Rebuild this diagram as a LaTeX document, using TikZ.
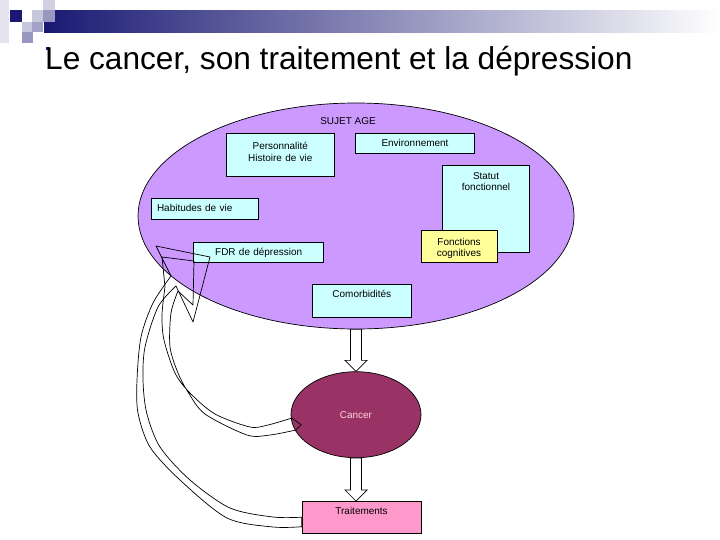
\documentclass[tikz,border=0pt]{standalone}
\usepackage{fontspec}
\setmainfont{Liberation Sans}
\usepackage{tikz}
\usetikzlibrary{calc,shapes.geometric}
\tikzset{>=latex}
\definecolor{Lavande}{RGB}{204,153,255}
\definecolor{BoxCyan}{RGB}{204,255,255}
\definecolor{Jaune}{RGB}{255,255,153}
\definecolor{Bordeaux}{RGB}{153,51,102}
\definecolor{Rose}{RGB}{255,153,204}
\definecolor{RosePale}{RGB}{255,214,214}
\definecolor{Marine}{RGB}{25,25,115}

\begin{document}
\begin{tikzpicture}[x=0.3mm,y=-0.3mm,
    boite/.style={draw,fill=BoxCyan,line width=0.6pt,inner sep=0pt,align=center,anchor=north west,font=\fontsize{8.5}{9.4}\selectfont},
    fleche/.style={draw,fill=white,line width=0.6pt},
    courbe/.style={draw,line width=0.6pt,line join=round}]
        \useasboundingbox (0,0) rectangle (720,540);
        % bandeau du haut
        \shade[left color=Marine,right color=white] (44,10) rectangle (720,32);
        \fill[Marine!12] (0,0) rectangle (9,43);
        \fill[Marine] (10,10) rectangle (22,22);
        \fill[Marine!25] (32,10) rectangle (43,22);
        \fill[Marine!20] (43,0) rectangle (55,10);
        \fill[Marine!45] (43,10) rectangle (55,22);
        \fill[Marine!25] (22,22) rectangle (32,32);
        \fill[Marine!40] (32,22) rectangle (43,32);
        \fill[Marine!45] (22,32) rectangle (33,43);
        \fill[Marine] (46,47) rectangle (49,50);
        \node[anchor=base west,inner sep=0pt,font=\fontsize{27}{32}\selectfont] (titre) at (45,69) {Le cancer, son traitement et la dépression};
        % sujet age
        \node[draw,ellipse,fill=Lavande,line width=0.6pt,inner sep=0pt,minimum width=130.8mm,minimum height=67.8mm] (sujet) at (356,216) {};
        \node[anchor=base,inner sep=0pt,font=\fontsize{8.5}{9.4}\selectfont] (sujetlbl) at (348,124.6) {SUJET AGE};
        \node[boite,text width=32.6mm,text height=4.9mm,text depth=7.9mm] (perso) at (225.6,133.3) {Personnalité\\Histoire de vie};
        \node[boite,text width=35.6mm,text height=4.0mm,text depth=2.0mm] (env) at (355.3,133.3) {Environnement};
        \node[boite,text width=26.2mm,text height=4.3mm,text depth=21.9mm] (statut) at (442,165) {Statut\\fonctionnel};
        \node[boite,fill=Jaune,text width=22.8mm,text height=4.4mm,text depth=5.3mm] (cogn) at (420.7,230) {Fonctions\\cognitives};
        \node[boite,align=left,inner xsep=1.8mm,text width=28.7mm,text height=4.0mm,text depth=2.2mm] (habit) at (150.7,198.3) {Habitudes de vie};
        \node[boite,text width=39mm,text height=3.9mm,text depth=2.1mm] (fdr) at (193.3,241.7) {FDR de dépression};
        \node[boite,text width=29.5mm,text height=4.0mm,text depth=5.9mm] (comorb) at (312.3,284.3) {Comorbidités};
        % cancer et traitements
        \node[draw,ellipse,fill=Bordeaux,text=RosePale,line width=0.6pt,inner sep=0pt,minimum width=39mm,minimum height=25.8mm,font=\fontsize{8.5}{9.4}\selectfont] (cancer) at (356,414.7) {Cancer};
        \node[boite,fill=Rose,text width=35.7mm,text height=3.8mm,text depth=5.9mm] (trait) at (301.7,501) {Traitements};
        % fleches droites
        \draw[fleche] ($(sujet.south)+(-5.5,0)$) -- ($(cancer.north)+(-5.5,-11)$) -- ($(cancer.north)+(-11,-11)$) -- (cancer.north) -- ($(cancer.north)+(11,-11)$) -- ($(cancer.north)+(5.5,-11)$) -- ($(sujet.south)+(5.5,0)$) -- cycle;
        \draw[fleche] ($(cancer.south)+(-5.5,0)$) -- ($(cancer.south |- trait.north)+(-5.5,-11)$) -- ($(cancer.south |- trait.north)+(-11,-11)$) -- (cancer.south |- trait.north) -- ($(cancer.south |- trait.north)+(11,-11)$) -- ($(cancer.south |- trait.north)+(5.5,-11)$) -- ($(cancer.south)+(5.5,0)$) -- cycle;
        % fleches courbes
        \draw[courbe] ($(trait.west)+(0,9.5)$) -- plot[smooth] coordinates {(301.7,526.7) (273,527) (227,518) (180,480) (150,447) (138,413) (137,380) (141,337) (153,303) (171,276)}
            -- (156,246) -- (210,257) -- (193,322) -- (176,286)
            -- plot[smooth] coordinates {(176,286) (158,307) (145,347) (143,380) (146.7,413) (160,447) (190,480) (230,508) (273,517) (301.7,517.2)} -- cycle;
        \draw[courbe] ($(cancer.west)+(1,3.3)$) -- plot[smooth] coordinates {(292,418) (268,425) (250,427) (215,414) (190,393) (175,373) (164,340) (162,315) (165,287)}
            -- (162,257) -- (194,261) -- (193,305) -- (178,291)
            -- plot[smooth] coordinates {(178,291) (171,313) (170,347) (178,373) (188,392) (205,414) (247,435) (270,435) (296,430)}
            -- ($(cancer.west)+(10.5,10)$) -- cycle;
\end{tikzpicture}
\end{document}
